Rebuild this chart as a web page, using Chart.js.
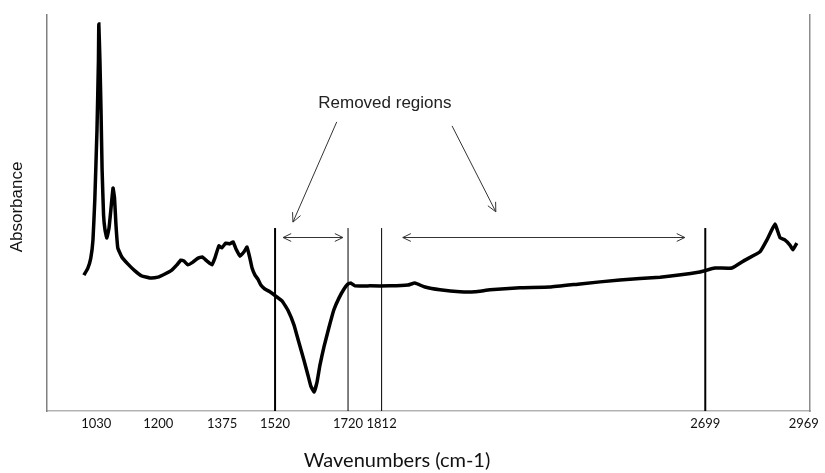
<!DOCTYPE html>
<html>
<head>
<meta charset="utf-8">
<script src="https://cdn.jsdelivr.net/npm/chart.js@4.4.1/dist/chart.umd.min.js"></script>
<style>
  html,body{margin:0;padding:0;background:#fff;}
</style>
</head>
<body>
<canvas id="spectrum" width="825" height="473"></canvas>
<script>
// averaged spectra, traced as wavenumber (cm-1) / absorbance pairs
const wavenumbers = [
  996,1007,1015,1021,1026,1032,1036,1037,1040,1043,1046,1050,1054,1059,1065,1070,1076,1080,1084,1089,
  1100,1117,1136,1155,1177,1199,1218,1237,1251,1262,1270,1281,1295,1309,1320,1333,1347,1355,1366,1374,
  1385,1396,1405,1413,1424,1435,1443,1451,1457,1465,1473,1481,1492,1506,1522,1539,1555,1572,1585,1599,
  1610,1618,1627,1635,1643,1654,1668,1681,1695,1709,1720,1728,1739,1780,1835,1884,1903,1931,1972,2027,
  2068,2109,2191,2273,2356,2465,2575,2684,2725,2772,2808,2849,2868,2890,2904,2917,2931,2939,2950
];
const absorbance = [
  0.343,0.361,0.386,0.432,0.533,0.710,0.886,0.977,0.886,0.760,0.609,0.495,0.457,0.437,0.462,0.508,0.563,0.538,0.470,0.412,
  0.389,0.371,0.354,0.341,0.336,0.338,0.346,0.356,0.369,0.381,0.379,0.369,0.376,0.386,0.389,0.379,0.369,0.386,0.417,0.412,
  0.424,0.422,0.427,0.409,0.391,0.402,0.414,0.386,0.361,0.343,0.333,0.318,0.308,0.301,0.290,0.278,0.255,0.217,0.174,0.129,
  0.091,0.063,0.048,0.073,0.116,0.162,0.212,0.255,0.285,0.308,0.321,0.323,0.316,0.316,0.316,0.318,0.323,0.313,0.306,0.301,
  0.301,0.306,0.311,0.313,0.321,0.331,0.338,0.351,0.361,0.361,0.381,0.402,0.432,0.472,0.437,0.432,0.419,0.407,0.424
];

const tickValues = [1030, 1200, 1375, 1520, 1720, 1812, 2699, 2969];

// boundaries of the cut-out ranges; outer ones are heavier
const cutPositions = [1520, 1720, 1812, 2699];
const cutWidths = [2, 1, 1, 2];
const cutTop = 0.462;

// double arrows spanning the removed ranges
const removedFrom = [1542, 1870];
const removedTo = [1706, 2643];
const removedLevel = 0.439;

// callout text and the two pointers leaving it
const calloutText = 'Removed regions';
const calloutAt = [1821, 0.778];
const pointerFrom = [[1689, 0.730], [2005, 0.720]];
const pointerTo = [[1569, 0.477], [2125, 0.503]];

const xTitle = 'Wavenumbers (cm-1)';
const yTitle = 'Absorbance';

const datasets = [{
  data: wavenumbers.map((w, i) => ({x: w, y: absorbance[i]})),
  borderColor: '#000',
  borderWidth: 3.5,
  pointRadius: 0,
  tension: 0.1,
  order: 0
}];
cutPositions.forEach((w, i) => {
  datasets.push({
    data: [{x: w, y: 0}, {x: w, y: cutTop}],
    borderColor: '#000',
    borderWidth: cutWidths[i],
    pointRadius: 0,
    order: 1
  });
});

function arrowHead(ctx, x1, y1, x2, y2, len) {
  const a = Math.atan2(y2 - y1, x2 - x1);
  const spread = 0.45;
  ctx.beginPath();
  ctx.moveTo(x2 - len * Math.cos(a - spread), y2 - len * Math.sin(a - spread));
  ctx.lineTo(x2, y2);
  ctx.lineTo(x2 - len * Math.cos(a + spread), y2 - len * Math.sin(a + spread));
  ctx.stroke();
}

const annotations = {
  id: 'annotations',
  afterDraw(chart) {
    const ctx = chart.ctx;
    const xs = chart.scales.x, ys = chart.scales.y;
    ctx.save();
    ctx.strokeStyle = '#333';
    ctx.lineWidth = 1;

    removedFrom.forEach((from, i) => {
      const x1 = xs.getPixelForValue(from), x2 = xs.getPixelForValue(removedTo[i]);
      const y = Math.round(ys.getPixelForValue(removedLevel)) + 0.5;
      ctx.beginPath();
      ctx.moveTo(x1, y);
      ctx.lineTo(x2, y);
      ctx.stroke();
      arrowHead(ctx, x2, y, x1, y, 9);
      arrowHead(ctx, x1, y, x2, y, 9);
    });

    pointerFrom.forEach((p, i) => {
      const x1 = xs.getPixelForValue(p[0]), y1 = ys.getPixelForValue(p[1]);
      const x2 = xs.getPixelForValue(pointerTo[i][0]), y2 = ys.getPixelForValue(pointerTo[i][1]);
      ctx.beginPath();
      ctx.moveTo(x1, y1);
      ctx.lineTo(x2, y2);
      ctx.stroke();
      arrowHead(ctx, x1, y1, x2, y2, 10);
    });

    ctx.fillStyle = '#222';
    ctx.textAlign = 'center';
    ctx.textBaseline = 'middle';
    ctx.font = '17px "Liberation Sans", Arial, sans-serif';
    ctx.fillText(calloutText, xs.getPixelForValue(calloutAt[0]), ys.getPixelForValue(calloutAt[1]));

    // axis titles
    ctx.fillStyle = '#111';
    ctx.font = '20px Lato, sans-serif';
    ctx.fillText(xTitle, 397, 461);
    ctx.translate(17, 207);
    ctx.rotate(-Math.PI / 2);
    ctx.font = '17px "Liberation Sans", Arial, sans-serif';
    ctx.fillText(yTitle, 0, 0);
    ctx.restore();
  }
};

new Chart(document.getElementById('spectrum'), {
  type: 'line',
  data: {datasets},
  options: {
    responsive: false,
    animation: false,
    devicePixelRatio: 1,
    layout: {padding: {top: 15, right: 15, left: 0, bottom: 0}},
    plugins: {legend: {display: false}, tooltip: {enabled: false}},
    scales: {
      x: {
        type: 'linear',
        min: 895,
        max: 2986,
        grid: {display: false, drawTicks: false},
        border: {color: '#b3b3b3', width: 1.5},
        afterBuildTicks: s => { s.ticks = tickValues.map(v => ({value: v})); },
        afterFit: s => { s.height = 62; },
        ticks: {
          autoSkip: false,
          maxRotation: 0,
          padding: 5,
          color: '#111',
          font: {family: 'Lato', size: 13},
          callback: v => String(v)
        }
      },
      y: {
        min: 0,
        max: 1,
        grid: {display: false, drawTicks: false},
        border: {color: '#808080', width: 1.5},
        ticks: {display: false},
        afterFit: s => { s.width = 47; }
      },
      y2: {
        position: 'right',
        display: true,
        min: 0,
        max: 1,
        grid: {display: false, drawTicks: false},
        border: {color: '#8c8c8c', width: 1.5},
        ticks: {display: false},
        afterFit: s => { s.width = 0; }
      }
    }
  },
  plugins: [annotations]
});
</script>
</body>
</html>
